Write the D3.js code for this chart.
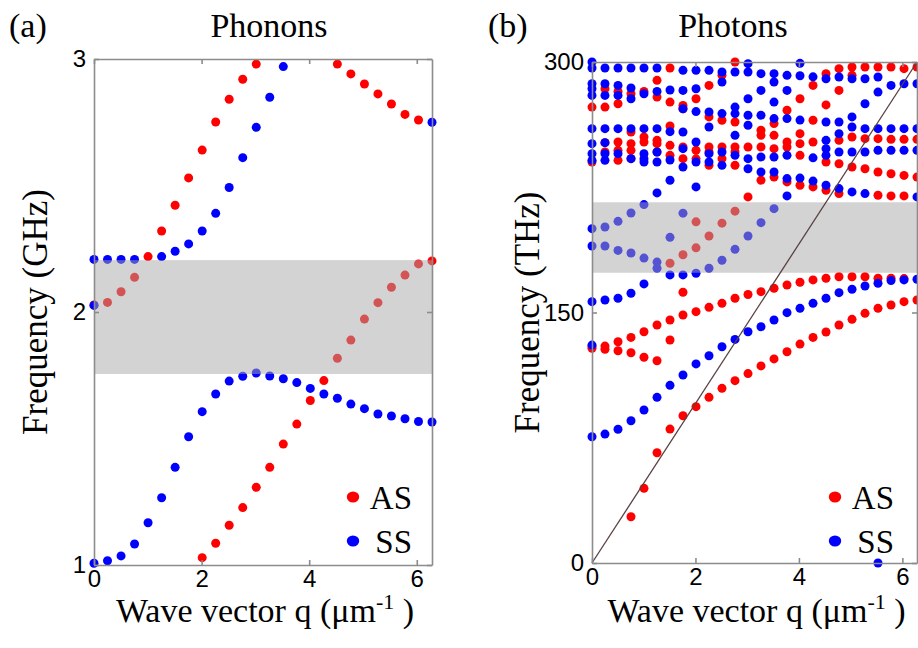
<!DOCTYPE html>
<html><head><meta charset="utf-8">
<script src="https://cdn.jsdelivr.net/npm/d3@7"></script>
<style>body{margin:0;background:#fff} svg{display:block}</style>
</head><body>
<svg id="c" width="918" height="648"></svg>
<script>
// ---- data ----
const qGrid = [0,0.251,0.503,0.754,1.005,1.257,1.508,1.759,2.011,2.262,2.513,2.765,3.016,3.267,3.519,3.770,4.021,4.273,4.524,4.775,5.027,5.278,5.529,5.781,6.032,6.283];
const xTicks = [0,2,4,6];
const phononYTicks = [1,2,3];
const photonYTicks = [0,150,300];
const phononBand = [1.755, 2.205];   // GHz
const photonBand = [173.8, 216.0];   // THz
const lightLineQ = [0, 6.283];
const lightLineF = [0, 300];

// Phonons (GHz), one value per q (null = no point)
const phononAS1 = [2.028,2.038,2.080,2.137,2.219,2.320,2.422,2.530,2.640,2.751,2.841,2.920,2.980,null,null,null,null,null,2.980,2.941,2.901,2.862,2.822,2.781,2.759,null];
const phononAS2 = [null,null,null,null,null,null,null,null,1.029,1.086,1.157,1.227,1.307,1.386,1.478,1.557,1.650,1.729,1.817,1.889,1.972,2.037,2.098,2.146,2.190,2.202];
const phononSS1 = [2.208,2.208,2.208,2.208,null,2.219,2.240,2.269,2.320,2.390,2.492,2.610,2.730,2.849,2.970,null,null,null,null,null,null,null,null,null,null,2.750];
const phononSS2 = [1.007,1.017,1.036,1.083,1.167,1.266,1.386,1.507,1.606,1.676,1.727,1.746,1.759,1.747,1.736,1.721,1.698,1.676,1.659,1.636,1.618,1.597,1.589,1.578,1.567,1.565];
const phononSS3 = [2.026,null,null,null,null,null,null,null,null,null,null,null,null,null,null,null,null,null,null,null,null,null,null,null,null,null];

// Photons (THz), list of frequencies for each q
const photonAS = [
 [128.6,129.9,240.1,273.0],
 [128.0,129.9,246.1,251.7,273.0,284.0],
 [127.1,132.5,241.1,247.1,252.1,275.0,282.4],
 [27.7,125.9,135.1,242.1,247.1,251.1,258.1,281.0],
 [44.7,123.2,138.5,252.1,255.1,282.4],
 [66.0,121.1,142.5,246.1,251.1,253.1,279.0,289.0],
 [80.2,133.5,145.5,179.5,244.1,250.1,261.7,276.0,296.4],
 [88.2,148.5,162.1,184.6,242.1,249.1,272.0,274.0],
 [93.6,150.5,188.7,204.3,242.0,247.1,278.0],
 [99.2,153.1,195.8,238.1,246.1,249.1,267.1,286.0],
 [104.6,155.5,203.5,242.1,249.1,265.1,292.0],
 [109.2,158.5,210.7,238.1,246.1,249.1,264.1,300.0],
 [113.4,160.8,219.2,249.1],
 [118.0,162.5,229.2,249.1,256.1,259.1],
 [122.2,164.5,231.1,248.1,256.1,263.1],
 [126.5,166.5,228.2,249.1,252.1,271.1],
 [131.1,168.1,226.2,244.1,251.1,257.1,278.0],
 [135.1,169.5,225.2,252.1,265.1,286.0],
 [138.3,170.5,223.2,240.1,274.3,293.0],
 [142.5,171.4,221.2,239.1,253.1,283.0,296.0],
 [145.9,171.4,237.1,255.1,292.0,297.0],
 [149.5,171.4,236.1,254.1,297.0],
 [152.5,170.5,220.2,234.1,254.1,297.0],
 [154.5,170.5,219.8,233.1,253.7,297.0],
 [156.5,170.3,219.8,232.1,253.7,296.0],
 [157.5,231.1,253.7,297.0]
];
const photonSS = [
 [75.6,130.5,156.5,189.8,200.2,241.1,245.1,251.1,260.1,280.0,284.0,287.0,296.4,300.0],
 [77.2,157.5,189.8,201.2,241.1,245.1,251.7,260.1,280.0,287.0,296.4],
 [80.1,158.5,187.2,204.6,245.1,260.1,280.0,286.0,296.4],
 [85.2,161.5,185.6,209.6,242.1,260.1,278.0,284.4,296.4],
 [91.6,167.1,182.6,214.6,240.1,242.1,245.1,260.1,281.0,296.4],
 [99.2,176.5,180.2,221.6,240.1,246.1,260.1,282.4,296.4],
 [106.4,172.5,195.0,229.2,241.3,258.3,283.2],
 [112.6,172.5,209.5,237.1,248.1,258.1,272.0,283.0,295.0],
 [119.2,173.5,225.2,240.1,252.1,270.3,284.0,295.0],
 [124.1,176.5,240.1,245.1,261.1,270.1,295.0],
 [129.5,181.3,238.1,246.1,269.1,288.0,294.0],
 [133.9,187.8,244.1,256.1,269.1,273.0,294.0],
 [138.5,195.8,236.1,242.1,262.1,268.1,278.0,294.0,299.0],
 [141.5,203.8,234.1,243.1,268.1,283.0,293.0],
 [145.5,212.2,234.1,243.1,266.1,276.0,288.0,293.0],
 [149.9,219.8,230.2,244.1,266.1,283.0,292.0],
 [152.5,230.5,265.2,291.8,299.2],
 [155.5,228.7,242.6,291.1],
 [158.5,226.2,244.1,248.1,253.1,264.1,290.0],
 [161.9,224.2,246.1,257.1,264.1,291.0],
 [163.9,222.2,246.1,261.1,267.1,290.0],
 [165.9,221.2,246.1,260.1,275.0,290.0],
 [0,167.5,247.1,260.1,282.0,291.0],
 [169.1,247.1,260.1,286.0],
 [169.5,247.1,260.1,287.0],
 [169.9,219.2,247.1,260.1,287.0]
];
const legendLabels = ["AS","SS"];
const colors = {AS:"#ff0000", SS:"#0000ff"};

// ---- helpers ----
const byQ = arr => arr.map((v,i)=>[qGrid[i],v]).filter(d=>d[1]!==null);
const byCols = cols => cols.flatMap((list,i)=>list.map(v=>[qGrid[i],v]));

const svg = d3.select('#c');
const SERIF = "'Liberation Serif','Times New Roman',serif";
const SANS = "'Liberation Sans',Arial,sans-serif";
const AXC = "#8c8c8c";

function panel(o){
  const x = d3.scaleLinear().domain([0, 6.283]).range(o.xr);
  const y = d3.scaleLinear().domain(o.yd).range(o.yr);
  const g = svg.append('g');
  o.series.forEach(s=>{
    g.append('g').selectAll('circle').data(s.pts).join('circle')
      .attr('cx',d=>x(d[0])).attr('cy',d=>y(d[1])).attr('r',4.5).attr('fill',s.color);
  });
  g.append('rect').attr('x',x(0)).attr('width',x(6.283)-x(0))
    .attr('y',y(o.band[1])).attr('height',y(o.band[0])-y(o.band[1]))
    .attr('fill','#a8a8a8').attr('opacity',0.5);
  if(o.line){
    g.append('path').datum(lightLineQ.map((q,i)=>[q,lightLineF[i]]))
      .attr('d',d3.line().x(d=>x(d[0])).y(d=>y(d[1])))
      .attr('stroke','#5b4040').attr('stroke-width',1.3).attr('fill','none');
  }
  const y0 = o.yr[0], y1 = o.yr[1], x0 = o.xr[0], x1 = o.xr[1];
  const style = a => {
    a.selectAll('path,line').attr('stroke',AXC).attr('stroke-width',1.6);
    a.selectAll('text').attr('fill','#000').style('font-family',SANS).style('font-size','24px');
  };
  g.append('g').attr('transform',`translate(0,${y0})`)
    .call(d3.axisBottom(x).tickValues(xTicks).tickFormat(d3.format('d')).tickSizeInner(-5).tickSizeOuter(0).tickPadding(5)).call(style);
  g.append('g').attr('transform',`translate(0,${y1})`)
    .call(d3.axisTop(x).tickValues(xTicks).tickFormat('').tickSizeInner(-5).tickSizeOuter(0)).call(style);
  g.append('g').attr('transform',`translate(${x0},0)`)
    .call(d3.axisLeft(y).tickValues(o.yTicks).tickFormat(d3.format('d')).tickSizeInner(-5).tickSizeOuter(0).tickPadding(8)).call(style);
  g.append('g').attr('transform',`translate(${x1},0)`)
    .call(d3.axisRight(y).tickValues(o.yTicks).tickFormat('').tickSizeInner(-5).tickSizeOuter(0)).call(style);

  svg.append('text').attr('x',o.tagX).attr('y',37).text(o.tag)
    .style('font-family',SERIF).style('font-size','34px');
  svg.append('text').attr('x',o.titleX).attr('y',37).attr('text-anchor','middle').text(o.title)
    .style('font-family',SERIF).style('font-size','34px');
  svg.append('text').attr('transform',`translate(${o.ylabX},${(y0+y1)/2}) rotate(-90)`)
    .attr('text-anchor','middle').text(o.ylab)
    .style('font-family',SERIF).style('font-size','35px');
  const xl = svg.append('text').attr('x',(x0+x1)/2+2).attr('y',622).attr('text-anchor','middle')
    .style('font-family',SERIF).style('font-size','34px');
  xl.append('tspan').text('Wave vector q (μm');
  xl.append('tspan').attr('dy',-13).style('font-size','22px').text('-1');
  xl.append('tspan').attr('dy',13).text(' )');

  legendLabels.forEach((lab,i)=>{
    svg.append('ellipse').attr('cx',o.legX).attr('cy',497+i*44).attr('rx',6.2).attr('ry',5.6).attr('fill',colors[lab]);
    svg.append('text').attr('x',o.legX+59).attr('y',509+i*44).attr('text-anchor','end').text(lab)
      .style('font-family',SERIF).style('font-size','33px');
  });
}

panel({
  xr:[94,432], yd:[1,3], yr:[565,59], yTicks:phononYTicks, band:phononBand,
  series:[
    {color:colors.AS, pts:byQ(phononAS1).concat(byQ(phononAS2))},
    {color:colors.SS, pts:byQ(phononSS1).concat(byQ(phononSS2)).concat(byQ(phononSS3))}
  ],
  tag:'(a)', tagX:9, title:'Phonons', titleX:269, ylab:'Frequency (GHz)', ylabX:47, legX:353
});
panel({
  xr:[592,917], yd:[0,300], yr:[563,62], yTicks:photonYTicks, band:photonBand, line:true,
  series:[
    {color:colors.AS, pts:byCols(photonAS)},
    {color:colors.SS, pts:byCols(photonSS)}
  ],
  tag:'(b)', tagX:488, title:'Photons', titleX:733, ylabX:539, ylab:'Frequency (THz)', legX:835
});
</script>
</body></html>
